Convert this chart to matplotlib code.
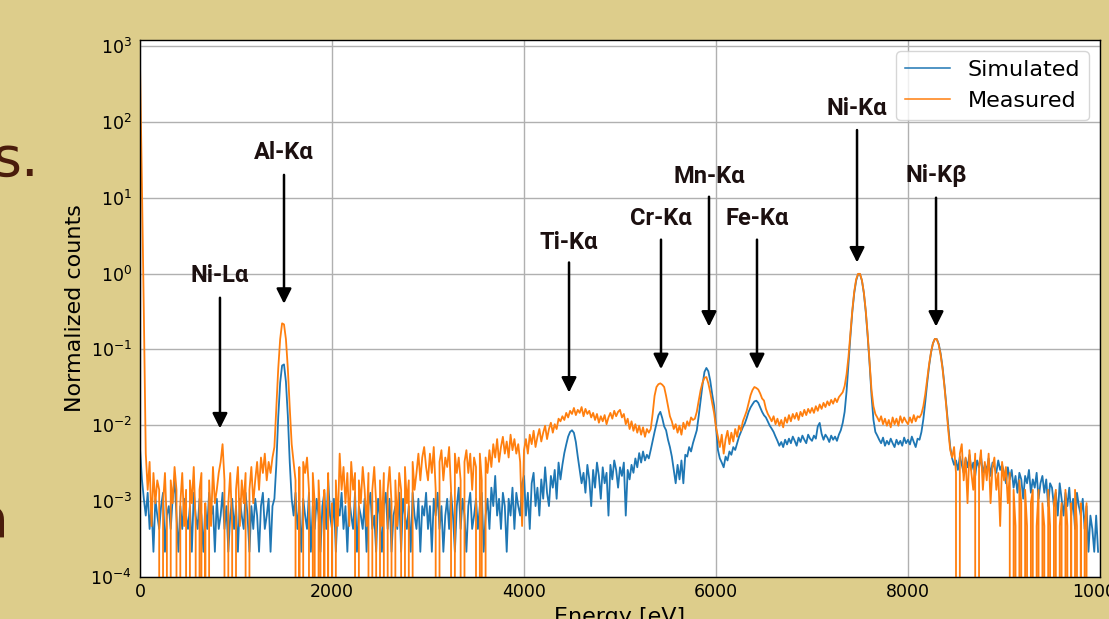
import numpy as np
import matplotlib
matplotlib.use("Agg")
import matplotlib.pyplot as plt

# channel grid of both spectra (eV)
ENERGY_START = 0
ENERGY_STEP = 20

# size of one count in normalized units (Ni-Ka peak = 1)
SIM_UNIT = 2.15e-4
MEAS_UNIT = 4.7e-4

sim_counts = [
    23, 9, 5, 3, 6, 2, 4, 1, 5, 3, 2, 4, 6, 1, 3, 4, 2, 5, 9, 3, 1, 4, 2, 5, 3,
    2, 4, 1, 6, 3, 2, 5, 3, 1, 4, 2, 6, 3, 4, 1, 5, 2, 3, 6, 2, 4, 1, 3, 5, 2,
    4, 1, 5, 3, 2, 6, 3, 1, 4, 2, 5, 3, 1, 4, 6, 2, 3, 5, 1, 4, 5, 14, 60, 170, 285,
    295, 175, 62, 15, 5, 3, 6, 2, 4, 1, 5, 3, 2, 6, 1, 4, 2, 5, 3, 1, 4, 6, 2, 9, 3,
    2, 5, 1, 4, 3, 6, 2, 4, 1, 5, 3, 2, 6, 1, 4, 3, 2, 5, 1, 4, 6, 2, 3, 1, 5,
    3, 1, 4, 6, 2, 5, 1, 3, 4, 2, 6, 1, 5, 3, 2, 4, 1, 6, 3, 2, 5, 1, 4, 3, 6,
    2, 4, 1, 5, 3, 6, 2, 4, 1, 3, 5, 2, 6, 3, 1, 4, 7, 2, 5, 3, 1, 4, 6, 2, 3,
    5, 2, 4, 6, 1, 3, 5, 2, 7, 4, 10, 3, 5, 2, 6, 4, 1, 5, 3, 7, 2, 6, 4, 3, 8,
    10, 3, 6, 2, 8, 11, 4, 7, 3, 9, 5, 13, 6, 4, 10, 7, 12, 5, 15, 9, 14, 20, 26, 33, 38,
    40, 37, 28, 18, 12, 8, 11, 6, 14, 9, 4, 12, 7, 15, 10, 5, 13, 8, 11, 3, 14, 9, 16, 12, 7,
    13, 10, 15, 3, 12, 9, 14, 11, 17, 13, 20, 15, 21, 16, 19, 17, 22, 29, 38, 49, 63, 70, 58, 45, 40,
    30, 24, 18, 12, 8, 14, 9, 16, 8, 19, 18, 24, 21, 27, 33, 40, 62, 100, 160, 235, 265, 240, 180, 120, 85,
    45, 22, 17, 15, 13, 18, 16, 21, 19, 24, 22, 27, 33, 38, 44, 49, 58, 70, 80, 88, 96, 98, 92, 80, 70,
    63, 59, 52, 46, 42, 38, 33, 29, 25, 28, 24, 30, 26, 31, 27, 33, 29, 25, 32, 28, 34, 30, 27, 35, 31,
    29, 34, 31, 45, 50, 36, 30, 35, 32, 28, 34, 30, 33, 29, 35, 40, 50, 70, 130, 300, 690, 1460, 2580, 3760, 4560,
    4560, 3760, 2580, 1460, 690, 300, 115, 55, 38, 34, 30, 27, 32, 25, 29, 26, 31, 27, 24, 30, 26, 29, 25, 32, 27,
    30, 26, 33, 28, 24, 31, 30, 38, 56, 95, 169, 282, 424, 560, 640, 635, 550, 410, 270, 155, 83, 43, 24, 17, 14,
    16, 12, 18, 14, 11, 17, 13, 19, 12, 15, 10, 16, 13, 18, 11, 14, 12, 17, 10, 15, 13, 11, 16, 12, 14,
    11, 8, 13, 9, 12, 7, 10, 6, 11, 9, 5, 10, 8, 12, 6, 9, 7, 11, 5, 8, 10, 6, 9, 4, 8,
    7, 4, 6, 3, 8, 5, 3, 6, 4, 7, 3, 5, 2, 6, 4, 3, 5, 2, 4, 1, 3, 2, 1, 3, 1,
]

meas_counts = [
    1230000, 32000, 640, 9, 3, 7, 1, 5, 2, 4, 3, 0, 2, 5, 1, 0, 4, 2, 6, 3, 0, 2, 5, 1, 3,
    0, 4, 2, 6, 1, 0, 3, 5, 0, 2, 0, 4, 1, 6, 2, 3, 5, 7, 12, 4, 0, 2, 5, 1, 0,
    3, 6, 1, 4, 2, 5, 0, 3, 6, 2, 4, 7, 3, 8, 5, 9, 4, 7, 5, 8, 11, 36, 119, 291, 470,
    455, 291, 119, 36, 12, 7, 4, 0, 6, 0, 7, 5, 8, 3, 0, 5, 2, 0, 4, 1, 0, 3, 0, 5, 0,
    2, 0, 4, 1, 9, 3, 6, 2, 5, 1, 7, 3, 5, 0, 4, 2, 6, 3, 1, 5, 0, 3, 6, 2, 0,
    4, 1, 5, 0, 3, 6, 2, 0, 4, 1, 5, 3, 0, 6, 2, 4, 0, 7, 3, 5, 9, 4, 8, 11, 6,
    4, 9, 5, 11, 3, 0, 7, 10, 4, 8, 6, 11, 3, 0, 9, 5, 8, 4, 0, 7, 10, 5, 9, 3, 8,
    6, 0, 9, 4, 0, 8, 5, 10, 6, 12, 8, 14, 7, 11, 15, 9, 13, 8, 16, 10, 14, 9, 12, 7, 1,
    10, 14, 9, 16, 12, 18, 11, 15, 19, 13, 17, 21, 14, 19, 23, 17, 22, 19, 26, 24, 28, 25, 31, 27, 33,
    30, 36, 29, 34, 31, 37, 28, 35, 30, 33, 27, 31, 25, 30, 23, 28, 24, 29, 22, 27, 31, 26, 33, 28, 32,
    34, 27, 30, 22, 26, 19, 24, 18, 22, 17, 21, 16, 20, 15, 19, 17, 19, 30, 52, 68, 74, 76, 73, 68, 52,
    38, 28, 24, 19, 22, 17, 21, 16, 23, 19, 24, 21, 27, 25, 26, 32, 45, 62, 78, 90, 92, 76, 58, 42, 31,
    20, 15, 11, 16, 9, 14, 18, 12, 17, 13, 19, 15, 21, 18, 24, 28, 33, 42, 53, 62, 68, 66, 63, 56, 48,
    45, 35, 30, 27, 24, 28, 22, 26, 21, 25, 20, 27, 23, 29, 24, 30, 26, 31, 25, 32, 28, 34, 29, 35, 31,
    36, 31, 38, 33, 40, 35, 42, 37, 44, 39, 46, 41, 48, 43, 50, 54, 58, 70, 100, 170, 350, 700, 1230, 1790, 2110,
    2110, 1740, 1200, 690, 335, 145, 62, 38, 30, 27, 24, 28, 22, 26, 21, 25, 20, 27, 22, 26, 21, 28, 23, 27, 24,
    22, 27, 23, 29, 24, 28, 27, 30, 38, 55, 87, 136, 197, 256, 293, 290, 245, 180, 118, 68, 36, 18, 10, 8, 11,
    5, 0, 9, 12, 4, 8, 2, 10, 5, 3, 9, 0, 6, 10, 3, 7, 4, 9, 2, 6, 8, 3, 5, 1, 7,
    4, 6, 2, 5, 0, 3, 1, 0, 4, 2, 0, 3, 1, 0, 2, 3, 0, 1, 3, 0, 2, 1, 0, 3, 1,
    0, 2, 3, 0, 1, 2, 0, 3, 1, 0, 2, 0, 3, 1, 0, 2, 0, 1, 2, 0, 0, 0, 0, 0, 0,
]

# emission lines marked with arrows
line_names = ["Ni-Lα", "Al-Kα", "Ti-Kα", "Cr-Kα", "Mn-Kα", "Fe-Kα", "Ni-Kα", "Ni-Kβ"]
line_energy = [833, 1500, 4469, 5427, 5927, 6427, 7469, 8292]
label_level = [0.94, 39, 2.6, 5.3, 19, 5.3, 148, 19.5]
arrow_start = [0.48, 20, 1.4, 2.8, 10.3, 2.8, 78, 10]
arrow_end = [9.1e-3, 0.40, 0.027, 0.055, 0.20, 0.055, 1.4, 0.20]

SLIDE_BG = "#ddcd8b"
SLIDE_TEXT = "#4a1c0c"

energy = ENERGY_START + ENERGY_STEP * np.arange(len(sim_counts))
simulated = np.array(sim_counts) * SIM_UNIT
measured = np.array(meas_counts) * MEAS_UNIT

fig = plt.figure(figsize=(11.09, 6.19), dpi=100, facecolor=SLIDE_BG)
ax = fig.add_axes([140 / 1109, 42 / 619, 960 / 1109, 537 / 619])
ax.set_facecolor("white")

ax.plot(energy, simulated, color="#1f77b4", lw=1.3, label="Simulated")
ax.plot(energy, measured, color="#ff7f0e", lw=1.3, label="Measured")

ax.set_yscale("log")
ax.set_xlim(0, 10000)
ax.set_ylim(1e-4, 1.2e3)
ax.set_xticks([0, 2000, 4000, 6000, 8000, 10000])
ax.grid(True, which="major", color="#b0b0b0", lw=1.0)
ax.tick_params(which="both", length=0, labelsize=12.5)
ax.tick_params(axis="y", pad=5.8)
ax.tick_params(axis="x", pad=4.5)
for sp in ax.spines.values():
    sp.set_linewidth(1.0)
    sp.set_color("black")

ax.set_xlabel("Energy [eV]", fontsize=16)
ax.set_ylabel("Normalized counts", fontsize=16)
leg = ax.legend(loc="upper right", fontsize=16)
for line in leg.get_lines():
    line.set_linewidth(1.1)

for name, e, ly, y0, y1 in zip(line_names, line_energy, label_level,
                               arrow_start, arrow_end):
    ax.annotate("", xy=(e, y1), xytext=(e, y0),
                arrowprops=dict(arrowstyle="-|>,head_length=0.6,head_width=0.3",
                                color="black", lw=1.8, shrinkA=0, shrinkB=0,
                                mutation_scale=15))
    ax.text(e, ly, name, ha="center", va="center", fontsize=17,
            fontweight="bold", family=["Roboto", "DejaVu Sans"], color="#1c1010")

# bits of slide text left of the chart
fig.text(40 / 1109, 1 - 176 / 619, "s.", ha="right", va="baseline",
         fontsize=40, color=SLIDE_TEXT)
fig.text(9 / 1109, 1 - 537 / 619, "a", ha="right", va="baseline",
         fontsize=40, color=SLIDE_TEXT)

fig.savefig("out.png", dpi=100, facecolor=SLIDE_BG)
